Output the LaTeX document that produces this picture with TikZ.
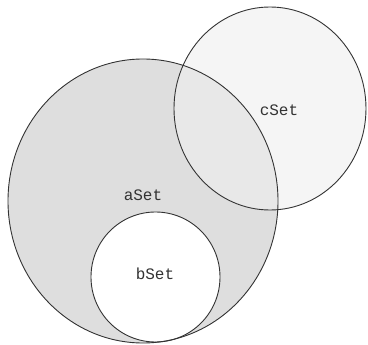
\documentclass[tikz,border=0pt]{standalone}
\usepackage{fontspec}
\setmonofont{Liberation Mono}
\begin{document}
\begin{tikzpicture}[x=1pt,y=-1pt,
  outline/.style={draw=black!80,line width=0.9pt},
  setlabel/.style={font=\ttfamily\fontsize{16}{18}\selectfont,text=black!80,inner sep=0pt}]
\useasboundingbox (0,0) rectangle (368,345);
\def\Apath{(143,201) ellipse [x radius=135,y radius=142]}
\def\Cpath{(270,108.5) ellipse [x radius=96,y radius=101.5]}
\def\Bpath{(155.5,277) ellipse [x radius=64.5,y radius=65]}
\fill[black!13] \Apath;
\fill[black!4] \Cpath;
\begin{scope}
  \clip \Apath;
  \fill[black!9] \Cpath;
\end{scope}
\fill[white] \Bpath;
\draw[outline] \Apath;
\draw[outline] \Cpath;
\draw[outline] \Bpath;
\node[setlabel] (a) at (143,195) {aSet};
\node[setlabel] (c) at (279,110) {cSet};
\node[setlabel] (b) at (155,274) {bSet};
\end{tikzpicture}
\end{document}
